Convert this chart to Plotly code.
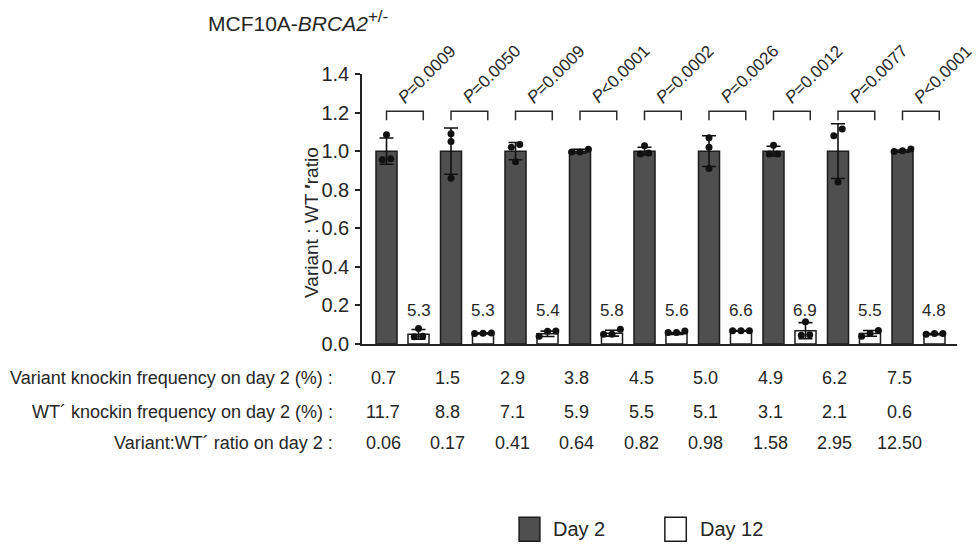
import plotly.graph_objects as go

# ---------------- data ----------------
p_labels = ["P=0.0009", "P=0.0050", "P=0.0009", "P<0.0001", "P=0.0002",
            "P=0.0026", "P=0.0012", "P=0.0077", "P<0.0001"]
day2_mean = [1.0, 1.0, 1.0, 1.0, 1.0, 1.0, 1.0, 1.0, 1.0]
day2_sd = [0.068, 0.12, 0.045, 0.01, 0.02, 0.08, 0.025, 0.142, 0.006]
day2_points = [[1.085, 0.96, 0.955], [1.09, 1.05, 0.86], [1.035, 1.02, 0.945],
               [1.01, 0.995, 0.995], [1.028, 0.99, 0.985], [1.07, 1.02, 0.91],
               [1.03, 0.985, 0.985], [1.115, 1.08, 0.84], [1.011, 0.998, 1.002]]
day12_mean = [0.050, 0.055, 0.053, 0.056, 0.055, 0.068, 0.069, 0.055, 0.051]
day12_sd = [0.025, 0.003, 0.014, 0.015, 0.005, 0.002, 0.042, 0.015, 0.003]
day12_points = [[0.08, 0.038, 0.04], [0.056, 0.057, 0.055], [0.066, 0.067, 0.04],
                [0.077, 0.05, 0.051], [0.06, 0.067, 0.06], [0.069, 0.069, 0.069],
                [0.115, 0.048, 0.045], [0.07, 0.055, 0.04], [0.05, 0.054, 0.054]]
day12_fold = ["5.3", "5.3", "5.4", "5.8", "5.6", "6.6", "6.9", "5.5", "4.8"]

row_labels = ["Variant knockin frequency on day 2 (%) :",
              "WT\u00b4 knockin frequency on day 2 (%) :",
              "Variant:WT\u00b4 ratio on day 2 :"]
variant_freq = ["0.7", "1.5", "2.9", "3.8", "4.5", "5.0", "4.9", "6.2", "7.5"]
wt_freq = ["11.7", "8.8", "7.1", "5.9", "5.5", "5.1", "3.1", "2.1", "0.6"]
ratio_day2 = ["0.06", "0.17", "0.41", "0.64", "0.82", "0.98", "1.58", "2.95", "12.50"]
series_names = ["Day 2", "Day 12"]
y_ticks = [0.0, 0.2, 0.4, 0.6, 0.8, 1.0, 1.2, 1.4]

# ---------------- style ----------------
FONT = "Arial, Liberation Sans, sans-serif"
TXT = "#262626"
DARK = "#4f4f4f"
EDGE = "#1c1c1c"
OFF = 0.248          # bar offset from group centre
BW = 0.326           # bar width
n = len(day2_mean)
groups = list(range(n))
x_dark = [g - OFF for g in groups]
x_white = [g + OFF for g in groups]


def swarm(vals, d=0.13, tol=0.036):
    order = sorted(range(len(vals)), key=lambda k: vals[k])
    clusters = []
    for k in order:
        if clusters and vals[k] - vals[clusters[-1][-1]] < tol:
            clusters[-1].append(k)
        else:
            clusters.append([k])
    offs = [0.0] * len(vals)
    for c in clusters:
        m = len(c)
        for j, k in enumerate(c):
            offs[k] = (j - (m - 1) / 2) * d
    return offs


fig = go.Figure()

fig.add_trace(go.Bar(x=x_dark, y=day2_mean, width=BW, name=series_names[0],
                     marker=dict(color=DARK, line=dict(color=EDGE, width=1.5)),
                     error_y=dict(type="data", array=day2_sd, color="#111111",
                                  thickness=1.6, width=7),
                     showlegend=False))
fig.add_trace(go.Bar(x=x_white, y=day12_mean, width=BW, name=series_names[1],
                     marker=dict(color="white", line=dict(color=EDGE, width=1.5)),
                     error_y=dict(type="data", array=day12_sd, color="#111111",
                                  thickness=1.6, width=7),
                     showlegend=False))

for xs, pts in ((x_dark, day2_points), (x_white, day12_points)):
    px, py = [], []
    for xc, vals in zip(xs, pts):
        for o, v in zip(swarm(vals), vals):
            px.append(xc + o)
            py.append(v)
    fig.add_trace(go.Scatter(x=px, y=py, mode="markers", showlegend=False,
                             marker=dict(size=7, color="#111111")))

shapes = []
annotations = []
for g, xd, xw in zip(groups, x_dark, x_white):
    x0, x1 = xd, xd + 0.57
    shapes.append(dict(type="path", xref="x", yref="y",
                       path=f"M {x0},1.16 L {x0},1.207 L {x1},1.207 L {x1},1.16",
                       line=dict(color="#2a2a2a", width=1.5)))
    lab = p_labels[g]
    annotations.append(dict(x=g + 0.375, y=1.40, xref="x", yref="y",
                            text="<i>P</i>" + lab[1:], textangle=-45,
                            showarrow=False, xanchor="center", yanchor="middle",
                            font=dict(family=FONT, size=17, color=TXT)))
    annotations.append(dict(x=xw, y=0.176, xref="x", yref="y", text=day12_fold[g],
                            showarrow=False, xanchor="center", yanchor="middle",
                            font=dict(family=FONT, size=17, color=TXT)))

row_y = [-0.126, -0.252, -0.367]
for ry, lab, vals in zip(row_y, row_labels, (variant_freq, wt_freq, ratio_day2)):
    annotations.append(dict(x=-0.045, y=ry, xref="paper", yref="paper", text=lab,
                            showarrow=False, xanchor="right", yanchor="middle",
                            font=dict(family=FONT, size=18, color=TXT)))
    for xd, v in zip(x_dark, vals):
        annotations.append(dict(x=xd - 0.05, y=ry, xref="x", yref="paper", text=v,
                                showarrow=False, xanchor="center", yanchor="middle",
                                font=dict(family=FONT, size=18, color=TXT)))

# title and y-axis title
annotations.append(dict(x=-0.263, y=1.195, xref="paper", yref="paper",
                        text="MCF10A-<i>BRCA2</i><sup><span style='font-size:17px'>+/-</span></sup>",
                        showarrow=False, xanchor="left", yanchor="middle",
                        font=dict(family=FONT, size=21, color=TXT)))
annotations.append(dict(x=-0.085, y=0.45, xref="paper", yref="paper",
                        text="Variant : WT <b>\u2032</b>ratio", textangle=-90,
                        showarrow=False, xanchor="center", yanchor="middle",
                        font=dict(family=FONT, size=19, color=TXT)))

# legend
leg_y0, leg_y1 = -0.642, -0.731
for (bx0, bx1, tx), fill, name in (((0.264, 0.299, 0.318), DARK, series_names[0]),
                                  ((0.509, 0.545, 0.565), "white", series_names[1])):
    shapes.append(dict(type="rect", xref="paper", yref="paper", x0=bx0, x1=bx1,
                       y0=leg_y1, y1=leg_y0, fillcolor=fill,
                       line=dict(color=EDGE, width=1.5)))
    annotations.append(dict(x=tx, y=(leg_y0 + leg_y1) / 2, xref="paper", yref="paper",
                            text=name, showarrow=False, xanchor="left",
                            yanchor="middle",
                            font=dict(family=FONT, size=20, color=TXT)))

fig.update_layout(
    width=977, height=546, autosize=False,
    margin=dict(l=362, r=20, t=74, b=202),
    paper_bgcolor="white", plot_bgcolor="white",
    barmode="overlay", showlegend=False,
    shapes=shapes, annotations=annotations,
    font=dict(family=FONT, color=TXT),
    xaxis=dict(range=[-0.628, 8.597], showline=True, linecolor="#222222",
               linewidth=1.5, ticks="", showticklabels=False, showgrid=False,
               zeroline=False),
    yaxis=dict(range=[0, 1.4], tickvals=y_ticks, tickformat=".1f",
               ticks="outside", ticklen=5, tickwidth=1.5, tickcolor="#222222",
               showline=True, linecolor="#222222", linewidth=1.5,
               showgrid=False, zeroline=False, ticklabelstandoff=2,
               tickfont=dict(family=FONT, size=20, color=TXT)),
)

fig.write_html("out.html", config={"displayModeBar": False},
               post_script="document.body.style.margin='0';"
                           "document.body.style.overflow='hidden';")
